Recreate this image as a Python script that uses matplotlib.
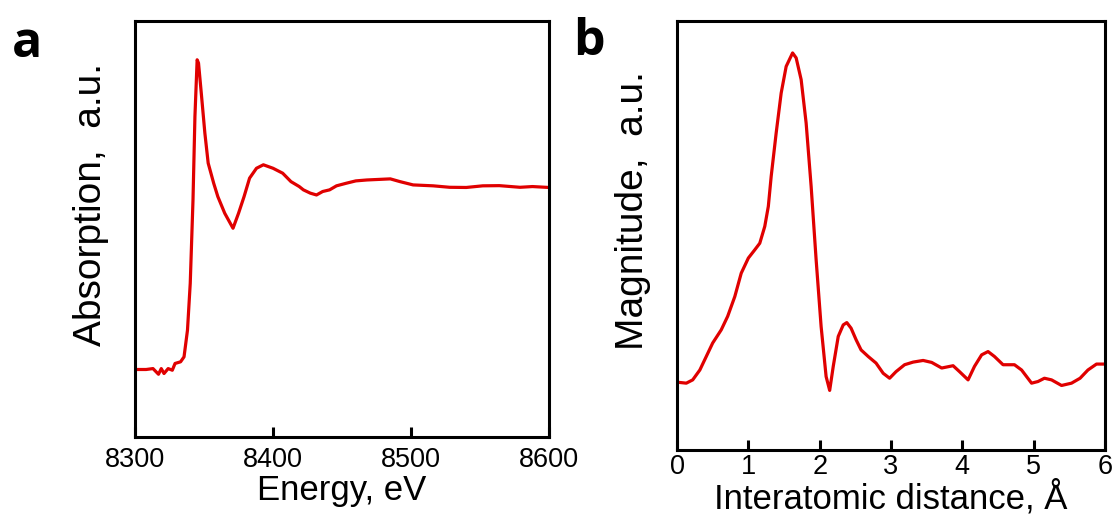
import matplotlib
matplotlib.use("Agg")
import matplotlib.pyplot as plt

# panel a: XANES
energy = [8300, 8308, 8313, 8317, 8319, 8321, 8324, 8327, 8329, 8333, 8335.5,
          8338, 8340, 8342, 8343.4, 8345, 8346, 8348, 8350.6, 8353, 8357, 8360,
          8365, 8371, 8375, 8379, 8383, 8388, 8393, 8400, 8407, 8413, 8419,
          8422, 8427, 8431.5, 8436, 8441, 8446, 8453, 8460, 8468, 8485, 8492,
          8501.5, 8516, 8528, 8540, 8552, 8564, 8579, 8588, 8600]
absorption = [0, 0, 0.005, -0.026, 0.005, -0.022, 0.005, -0.004, 0.033, 0.042, 0.069,
              0.215, 0.471, 0.927, 1.383, 1.693, 1.675, 1.511, 1.292, 1.128, 1.018, 0.945,
              0.854, 0.772, 0.854, 0.945, 1.046, 1.100, 1.119, 1.100, 1.073, 1.027, 1.000,
              0.982, 0.964, 0.954, 0.973, 0.982, 1.004, 1.018, 1.031, 1.036, 1.042, 1.027,
              1.009, 1.004, 0.996, 0.995, 1.004, 1.005, 0.996, 1.000, 0.995]

# panel b: Fourier transform magnitude
distance = [0, 0.13, 0.22, 0.32, 0.41, 0.50, 0.62, 0.71, 0.81, 0.90, 1.00,
            1.09, 1.16, 1.23, 1.28, 1.32, 1.39, 1.46, 1.53, 1.62, 1.67, 1.74,
            1.81, 1.88, 1.95, 2.02, 2.09, 2.14, 2.19, 2.26, 2.33, 2.38, 2.44,
            2.51, 2.58, 2.68, 2.79, 2.89, 2.98, 3.07, 3.19, 3.31, 3.45, 3.57,
            3.71, 3.87, 3.96, 4.08, 4.17, 4.27, 4.36, 4.45, 4.57, 4.73, 4.83,
            4.97, 5.06, 5.15, 5.25, 5.39, 5.53, 5.65, 5.76, 5.88, 6.0]
magnitude = [0, -0.003, 0.007, 0.037, 0.078, 0.119, 0.159, 0.200, 0.260, 0.331, 0.377,
             0.402, 0.422, 0.473, 0.534, 0.625, 0.757, 0.878, 0.959, 1.0, 0.985, 0.919,
             0.787, 0.595, 0.372, 0.169, 0.017, -0.025, 0.048, 0.139, 0.174, 0.181, 0.164,
             0.129, 0.098, 0.078, 0.058, 0.027, 0.012, 0.032, 0.053, 0.061, 0.066, 0.060,
             0.043, 0.050, 0.032, 0.007, 0.048, 0.083, 0.093, 0.078, 0.053, 0.053, 0.037,
             -0.003, 0.002, 0.012, 0.007, -0.010, -0.003, 0.012, 0.037, 0.055, 0.055]

red = "#e00000"
plt.rcParams["font.family"] = ["Liberation Sans", "DejaVu Sans"]

fig = plt.figure(figsize=(11.17, 5.16), dpi=100)
ax1 = fig.add_axes([0.1209, 0.1531, 0.3706, 0.8062])
ax2 = fig.add_axes([0.6061, 0.1279, 0.3832, 0.8314])

ax1.plot(energy, absorption, color=red, lw=2.3, solid_joinstyle="round")
ax1.set_xlim(8300, 8600)
ax1.set_ylim(-0.369, 1.905)
ax1.set_xticks([8300, 8400, 8500, 8600])
ax1.set_xlabel("Energy, eV", fontsize=25, labelpad=1)
ax1.set_ylabel("Absorption,  a.u.", fontsize=28)
ax1.yaxis.set_label_coords(-0.062, 0.56)

ax2.plot(distance, magnitude, color=red, lw=2.3, solid_joinstyle="round")
ax2.set_xlim(0, 6)
ax2.set_ylim(-0.206, 1.097)
ax2.set_xticks(range(7))
ax2.set_xlabel("Interatomic distance, Å", fontsize=25, labelpad=0)
ax2.set_ylabel("Magnitude,  a.u.", fontsize=28)
ax2.yaxis.set_label_coords(-0.06, 0.557)

for ax, pad in ((ax1, 7), (ax2, 3)):
    ax.set_yticks([])
    ax.tick_params(axis="x", direction="in", length=7, width=2.2,
                   labelsize=19.5, pad=pad)
    for s in ax.spines.values():
        s.set_linewidth(2.2)

fig.text(0.011, 0.8895, "a", fontsize=36, weight="bold", family="Open Sans")
fig.text(0.513, 0.893, "b", fontsize=36, weight="bold", family="Open Sans")

fig.savefig("out.png", dpi=100)
